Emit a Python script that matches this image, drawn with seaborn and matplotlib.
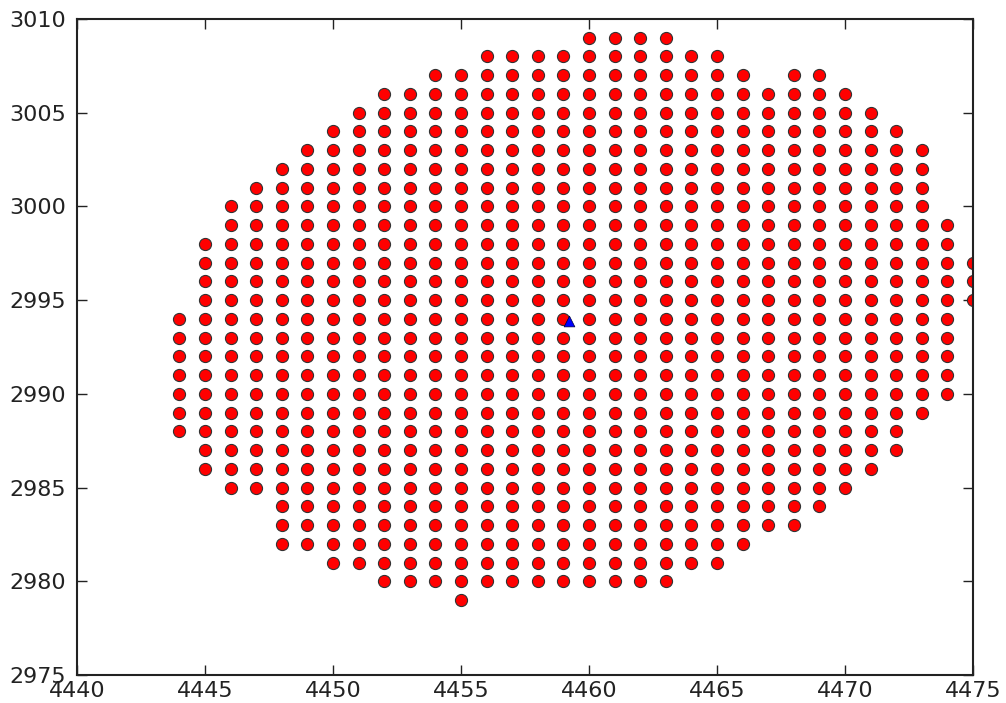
import numpy as np
import pandas as pd
import seaborn as sns
import matplotlib.pyplot as plt

# grid columns (x) and the lowest/highest y occupied in each column
col_x = [4444, 4445, 4446, 4447, 4448, 4449, 4450, 4451, 4452, 4453, 4454, 4455,
         4456, 4457, 4458, 4459, 4460, 4461, 4462, 4463, 4464, 4465, 4466, 4467,
         4468, 4469, 4470, 4471, 4472, 4473, 4474, 4475]
col_ymin = [2988, 2986, 2985, 2985, 2982, 2982, 2981, 2981, 2980, 2980, 2980, 2979,
            2980, 2980, 2980, 2980, 2980, 2980, 2980, 2980, 2981, 2981, 2982, 2983,
            2983, 2984, 2985, 2986, 2987, 2989, 2990, 2995]
col_ymax = [2994, 2998, 3000, 3001, 3002, 3003, 3004, 3005, 3006, 3006, 3007, 3007,
            3008, 3008, 3008, 3008, 3009, 3009, 3009, 3009, 3008, 3008, 3007, 3006,
            3007, 3007, 3006, 3005, 3004, 3003, 2999, 2997]

# single marked location
target_x = [4459.2]
target_y = [2993.9]

rows = []
for x, lo, hi in zip(col_x, col_ymin, col_ymax):
    for y in range(lo, hi + 1):
        rows.append((x, y))
grid = pd.DataFrame(rows, columns=['x', 'y'])
target = pd.DataFrame({'x': target_x, 'y': target_y})

sns.set_style('ticks', {'xtick.direction': 'in', 'ytick.direction': 'in'})
plt.rcParams['font.family'] = ['DejaVu Sans']

fig = plt.figure(figsize=(10.06, 7.03), dpi=100)
ax = fig.add_axes([0.0765, 0.0398, 0.8907, 0.9332])

sns.scatterplot(data=grid, x='x', y='y', ax=ax, color='#ff0000', marker='o',
                s=76, edgecolor='#333333', linewidth=0.8, legend=False)
sns.scatterplot(data=target, x='x', y='y', ax=ax, color='#0000ff', marker='^',
                s=60, edgecolor='#000033', linewidth=0.5, legend=False, zorder=3)

ax.set_xlim(4440, 4475)
ax.set_ylim(2975, 3010)
ax.set_xticks(np.arange(4440, 4476, 5))
ax.set_yticks(np.arange(2975, 3011, 5))
ax.set_xlabel('')
ax.set_ylabel('')
ax.tick_params(axis='both', which='both', direction='in', length=7, width=1,
               labelsize=16, colors='#222222', top=True, right=True)
ax.tick_params(axis='x', pad=4)
ax.tick_params(axis='y', pad=8)
for side in ax.spines.values():
    side.set_visible(True)
    side.set_color('#222222')
    side.set_linewidth(1.5)

fig.savefig('out.png', dpi=100)
